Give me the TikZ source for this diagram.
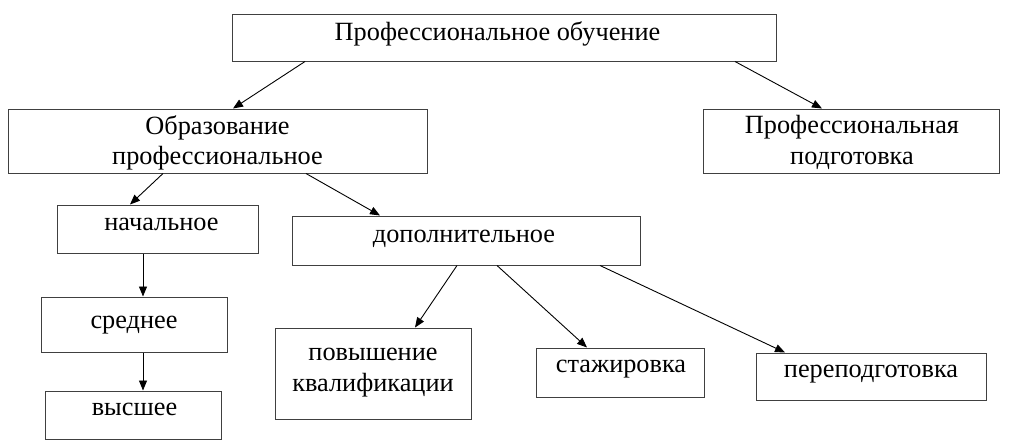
\documentclass[tikz,border=0pt]{standalone}
\usepackage{fontspec}
\setmainfont{Liberation Serif}
\usetikzlibrary{arrows.meta}
\begin{document}
\begin{tikzpicture}[x=1pt,y=-1pt,
  box/.style={draw=black!75,line width=1pt,inner sep=0pt,minimum width=#1},
  lbl/.style={anchor=base,inner sep=0pt,align=center,font=\fontsize{26.3}{30.5}\selectfont},
  arr/.style={draw=black,line width=0.9pt,-{Triangle[length=10pt,width=8pt]}}]
\useasboundingbox (0,0) rectangle (1011,445);
% boxes
\node[box=544pt,minimum height=47pt] (top) at (504,37.5) {};
\node[box=419pt,minimum height=64pt] (obr) at (217.5,141) {};
\node[box=296pt,minimum height=64pt] (pp) at (851,141) {};
\node[box=201pt,minimum height=48pt] (nach) at (157.5,229) {};
\node[box=186pt,minimum height=55pt] (sred) at (134,324.5) {};
\node[box=176pt,minimum height=48pt] (vys) at (133,415) {};
\node[box=348pt,minimum height=49pt] (dop) at (466,240.5) {};
\node[box=196pt,minimum height=91pt] (pov) at (373,373.5) {};
\node[box=168pt,minimum height=49pt] (staj) at (620,372.5) {};
\node[box=230pt,minimum height=47pt] (pere) at (871,376.5) {};
% texts
\node[lbl] (topt) at (497.5,40) {Профессиональное обучение};
\node[lbl] (obrt) at (217.5,164.5) {Образование\\профессиональное};
\node[lbl] (ppt) at (852,164) {Профессиональная\\подготовка};
\node[lbl] (nacht) at (161.5,230) {начальное};
\node[lbl] (sredt) at (134,328) {среднее};
\node[lbl] (vyst) at (134.5,415) {высшее};
\node[lbl] (dopt) at (464,242) {дополнительное};
\node[lbl] (povt) at (373,391) {повышение\\квалификации};
\node[lbl] (stajt) at (621,372) {стажировка};
\node[lbl] (peret) at (871,377) {переподготовка};
% connectors
\draw[arr] ([xshift=-199pt]top.south) -- ([xshift=15.5pt]obr.north);
\draw[arr] ([xshift=231pt]top.south) -- ([xshift=-29pt]pp.north);
\draw[arr] ([xshift=-54.5pt]obr.south) -- ([xshift=-27.5pt]nach.north);
\draw[arr] ([xshift=88.5pt]obr.south) -- ([xshift=-86pt]dop.north);
\draw[arr] ([xshift=-14.5pt]nach.south) -- ([xshift=9pt]sred.north);
\draw[arr] ([xshift=9pt]sred.south) -- ([xshift=10pt]vys.north);
\draw[arr] ([xshift=-9pt]dop.south) -- ([xshift=42pt]pov.north);
\draw[arr] ([xshift=31pt]dop.south) -- ([xshift=-33pt]staj.north);
\draw[arr] ([xshift=134pt]dop.south) -- ([xshift=-86pt]pere.north);
\end{tikzpicture}
\end{document}
